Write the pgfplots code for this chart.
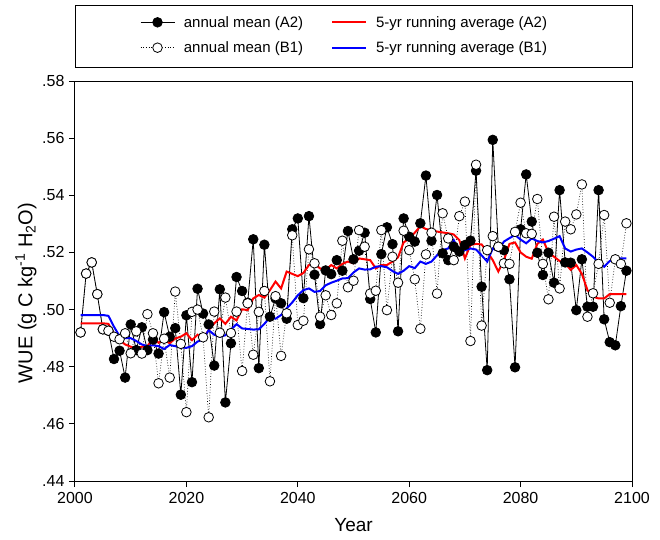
\documentclass[border=0pt]{standalone}
\usepackage{fontspec}
\setmainfont{Liberation Sans}
\usepackage{pgfplots}
\usepackage{pgfplotstable}
\pgfplotsset{compat=1.18}

% WUE, annual means and 5-yr running averages, A2 and B1
\pgfplotstableread{
year a2 b1 ra rb
2001 .4920 .4920 .4952 .4981
2002 .5126 .5126 .4952 .4981
2003 .5165 .5165 .4952 .4981
2004 .5054 .5054 .4952 .4981
2005 .4931 .4931 .4952 .4981
2006 .4926 .4926 .4950 .4978
2007 .4827 .4905 .4915 .4940
2008 .4856 .4896 .4893 .4907
2009 .4762 .4917 .4878 .4900
2010 .4948 .4847 .4870 .4900
2011 .4858 .4924 .4864 .4890
2012 .4938 .4846 .4870 .4878
2013 .4858 .4984 .4872 .4872
2014 .4895 .4917 .4899 .4875
2015 .4846 .4742 .4884 .4872
2016 .4991 .4898 .4895 .4862
2017 .4905 .4762 .4882 .4876
2018 .4935 .5063 .4899 .4872
2019 .4702 .4880 .4905 .4868
2020 .4980 .4641 .4917 .4866
2021 .4746 .4992 .4893 .4872
2022 .5073 .5000 .4912 .4888
2023 .4986 .4903 .4899 .4895
2024 .4948 .4623 .4928 .4928
2025 .4804 .4993 .4952 .4912
2026 .5071 .4919 .4969 .4905
2027 .4675 .5042 .4950 .4910
2028 .4882 .4918 .4975 .4930
2029 .5114 .4993 .4962 .4949
2030 .5065 .4785 .5001 .4934
2031 .5024 .5022 .4998 .4932
2032 .5246 .4842 .5039 .4930
2033 .4795 .4992 .5051 .4931
2034 .5227 .5065 .5042 .4950
2035 .4975 .4749 .5068 .4973
2036 .5039 .5047 .5098 .4968
2037 .5022 .4838 .5074 .4981
2038 .4968 .4987 .5133 .5004
2039 .5281 .5260 .5125 .5025
2040 .5319 .4946 .5117 .5050
2041 .5040 .4961 .5128 .5068
2042 .5327 .5211 .5156 .5074
2043 .5122 .5162 .5160 .5062
2044 .4949 .4975 .5144 .5065
2045 .5137 .5050 .5138 .5085
2046 .5124 .4981 .5156 .5094
2047 .5173 .5022 .5144 .5101
2048 .5136 .5241 .5160 .5109
2049 .5275 .5078 .5168 .5110
2050 .5176 .5101 .5162 .5130
2051 .5206 .5278 .5179 .5144
2052 .5269 .5220 .5176 .5140
2053 .5037 .5056 .5173 .5141
2054 .4920 .5066 .5144 .5150
2055 .5194 .5278 .5156 .5152
2056 .5288 .4998 .5156 .5148
2057 .5229 .5185 .5168 .5135
2058 .4924 .5094 .5183 .5125
2059 .5319 .5276 .5235 .5136
2060 .5255 .5208 .5249 .5152
2061 .5238 .5106 .5269 .5145
2062 .5302 .4933 .5292 .5168
2063 .5469 .5193 .5282 .5160
2064 .5241 .5269 .5278 .5168
2065 .5401 .5056 .5273 .5190
2066 .5197 .5337 .5270 .5208
2067 .5173 .5249 .5267 .5214
2068 .5220 .5173 .5263 .5243
2069 .5203 .5327 .5243 .5203
2070 .5226 .5378 .5179 .5208
2071 .5241 .4890 .5226 .5214
2072 .5486 .5507 .5230 .5210
2073 .5080 .4944 .5228 .5190
2074 .4788 .5208 .5203 .5168
2075 .5594 .5257 .5173 .5214
2076 .5220 .5220 .5133 .5205
2077 .5208 .5162 .5173 .5238
2078 .5106 .5160 .5230 .5250
2079 .4798 .5272 .5235 .5261
2080 .5281 .5374 .5200 .5245
2081 .5473 .5267 .5185 .5232
2082 .5308 .5265 .5178 .5249
2083 .5199 .5387 .5230 .5240
2084 .5121 .5160 .5245 .5235
2085 .5199 .5036 .5200 .5240
2086 .5094 .5325 .5185 .5248
2087 .5418 .5074 .5170 .5257
2088 .5165 .5308 .5162 .5214
2089 .5164 .5281 .5139 .5203
2090 .4998 .5333 .5156 .5210
2091 .5176 .5438 .5125 .5214
2092 .5010 .4975 .5068 .5200
2093 .5010 .5057 .5045 .5185
2094 .5418 .5160 .5039 .5165
2095 .4966 .5331 .5039 .5150
2096 .4886 .5024 .5054 .5170
2097 .4875 .5176 .5054 .5179
2098 .5012 .5160 .5054 .5179
2099 .5136 .5302 .5054 .5179
}\wue

\begin{document}
\begin{tikzpicture}
\begin{axis}[
  scale only axis, width=557pt, height=400pt,
  xmin=2000, xmax=2100, ymin=0.44, ymax=0.58,
  xtick={2000,2020,2040,2060,2080,2100},
  xticklabels={2000,2020,2040,2060,2080,2100},
  ytick={0.44,0.46,0.48,0.50,0.52,0.54,0.56,0.58},
  yticklabels={.44,.46,.48,.50,.52,.54,.56,.58},
  tick pos=left, tick align=outside, major tick length=6pt,
  axis line style={line width=1pt},
  every tick/.append style={black, line width=1pt},
  tick label style={font=\fontsize{16}{19}\selectfont},
  yticklabel style={xshift=-1pt},
  xticklabel style={yshift=-2pt},
  xlabel={Year},
  ylabel={WUE (g C kg\textsuperscript{-1} H\textsubscript{2}O)},
  every axis x label/.style={at={(axis description cs:0.5,-0.11)}, anchor=center,
    font=\fontsize{19}{23}\selectfont},
  every axis y label/.style={at={(axis description cs:-0.088,0.47)}, anchor=center, rotate=90,
    font=\fontsize{20}{24}\selectfont},
  legend columns=2, transpose legend,
  legend cell align=left,
  legend image code/.code={\draw[mark repeat=2,mark phase=2] plot coordinates {(0pt,0pt) (17pt,0pt) (34pt,0pt)};},
  legend style={draw=none, fill=none, at={(0.484,1)}, anchor=center, yshift=46pt,
    font=\fontsize{15}{18}\selectfont, row sep=9pt,
    /tikz/every odd column/.append style={column sep=7pt},
    /tikz/every even column/.append style={column sep=26pt}},
]
\addplot[black, line width=0.8pt, mark=*, mark size=4.8pt, mark options={solid, fill=black}]
  table[x=year, y=a2] {\wue};
\addlegendentry{annual mean (A2)}
\addplot[black, line width=0.7pt, dotted, mark=*, mark size=4.8pt, mark options={solid, fill=white, line width=0.8pt}]
  table[x=year, y=b1] {\wue};
\addlegendentry{annual mean (B1)}
\addplot[red, line width=2pt, no marks] table[x=year, y=ra] {\wue};
\addlegendentry{5-yr running average (A2)}
\addplot[blue, line width=2pt, no marks] table[x=year, y=rb] {\wue};
\addlegendentry{5-yr running average (B1)}
\coordinate (sw) at (rel axis cs:0,0);
\coordinate (nw) at (rel axis cs:0,1);
\coordinate (ne) at (rel axis cs:1,1);
\end{axis}
\draw[line width=1pt] ([yshift=14pt]nw) rectangle ([yshift=75pt]ne);
\path ([xshift=-75pt,yshift=-58pt]sw) rectangle ++(660pt,539pt);
\end{tikzpicture}
\end{document}
